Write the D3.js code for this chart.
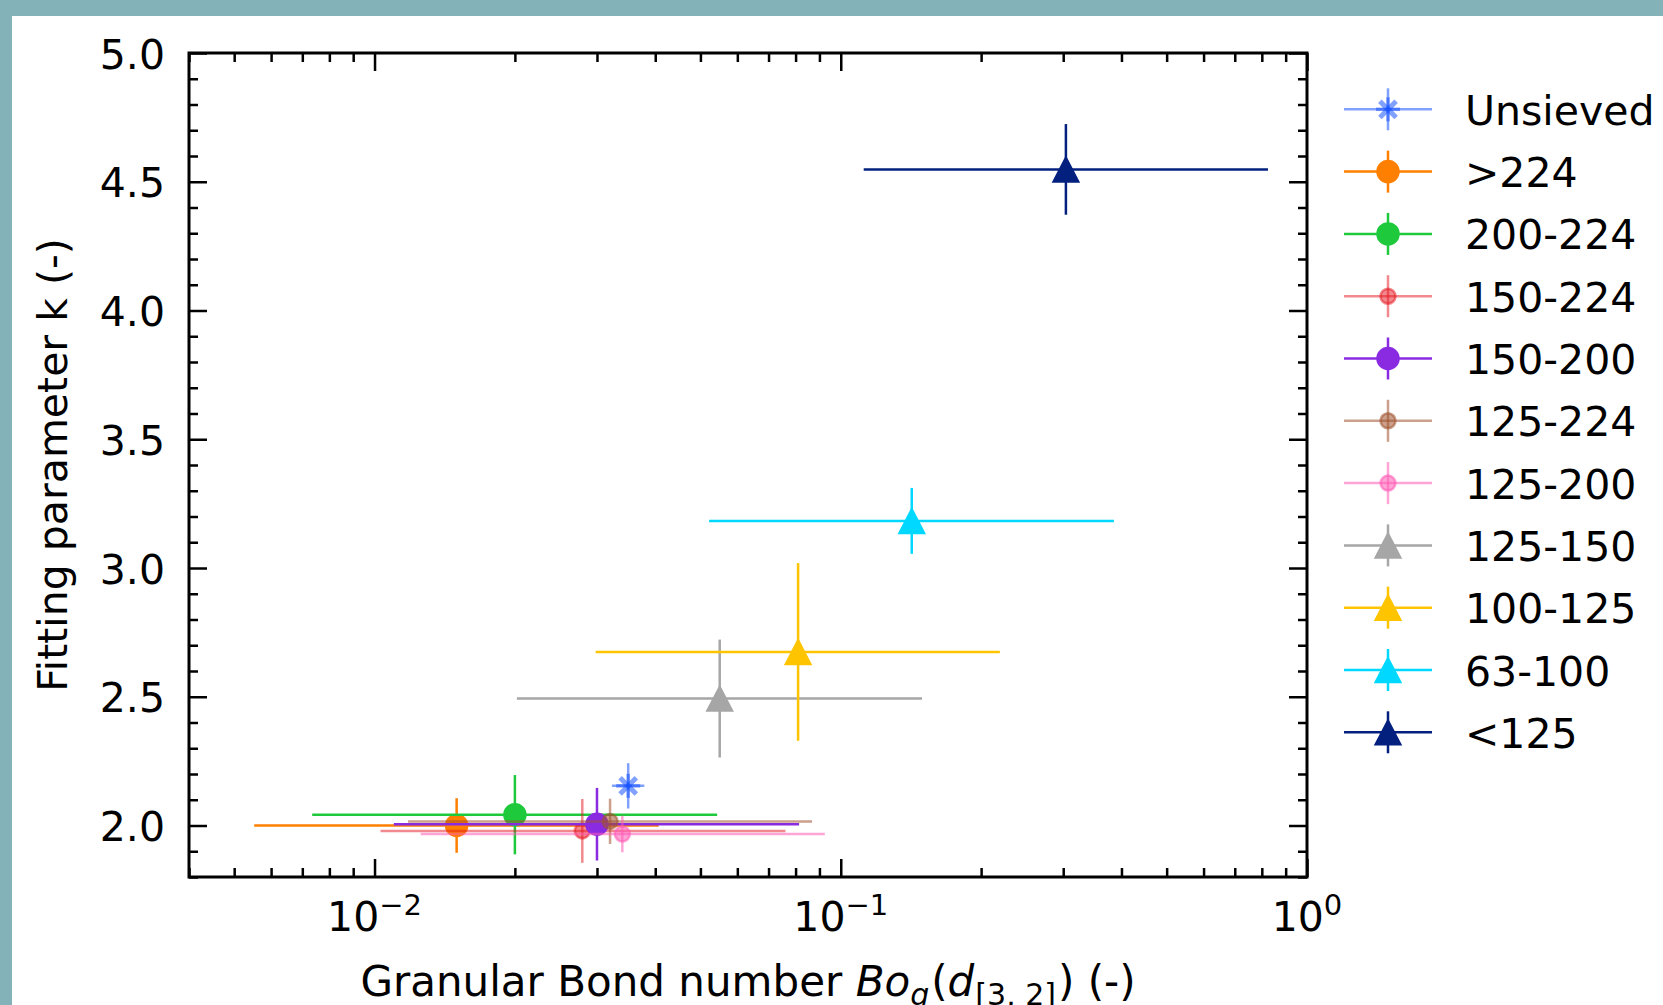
<!DOCTYPE html>
<html>
<head>
<meta charset="utf-8">
<script src="https://cdn.jsdelivr.net/npm/d3@7"></script>
<style>
html, body { margin: 0; padding: 0; background: #83b3b8; }
svg { display: block; font-family: "DejaVu Sans", sans-serif; }
</style>
</head>
<body>
<svg id="chart" width="1663" height="1005"></svg>
<script>
// data
var groups = ["Unsieved", ">224", "200-224", "150-224", "150-200", "125-224", "125-200", "125-150", "100-125", "63-100", "<125"];
var bond = [0.0350, 0.0150, 0.0200, 0.0279, 0.0300, 0.0320, 0.0340, 0.0550, 0.0810, 0.1420, 0.3040];
var bondLow = [0.0323, 0.00552, 0.00735, 0.0103, 0.0110, 0.0118, 0.01256, 0.0202, 0.0298, 0.0522, 0.1120];
var bondHigh = [0.0379, 0.0407, 0.0543, 0.0761, 0.0814, 0.0868, 0.0924, 0.1494, 0.2194, 0.3853, 0.8247];
var kVal = [2.154, 2.000, 2.042, 1.979, 2.005, 2.016, 1.967, 2.493, 2.674, 3.183, 4.548];
var kErr = [0.088, 0.106, 0.154, 0.124, 0.141, 0.088, 0.071, 0.229, 0.345, 0.128, 0.176];
var yTicks = [2.0, 2.5, 3.0, 3.5, 4.0, 4.5, 5.0];
var xTickLabels = ["\u22122", "\u22121", "0"];

// styles, one per group
var colors = ["#1a53ff", "#ff7f00", "#1fc93c", "#e6141e", "#8a2be2", "#a0522d", "#ff5ab4", "#a6a6a6", "#ffc400", "#00d8ff", "#03207f"];
var alphas = [0.55, 1, 1, 0.5, 1, 0.55, 0.55, 1, 1, 1, 1];
var shapes = ["star", "circle", "circle", "small", "circle", "small", "small", "tri", "tri", "tri", "tri"];

var svg = d3.select("#chart");
var box = {l: 189, r: 1307, t: 53, b: 877};

svg.append("rect")
	.attr("x", 12).attr("y", 16)
	.attr("width", 1663 - 12).attr("height", 1005 - 16)
	.attr("fill", "white");

var x = d3.scaleLog().domain([0.004, 1]).range([box.l, box.r]);
var y = d3.scaleLinear().domain([1.8, 5.0]).range([box.b, box.t]);

var isMajor = function(v) { return Math.abs(Math.log10(v) - Math.round(Math.log10(v))) < 1e-6; };
var xMajor = x.ticks().filter(isMajor);
var xMinor = x.ticks().filter(function(v) { return !isMajor(v); });
var yMinor = y.ticks(32).filter(function(v) { return yTicks.indexOf(Math.round(v * 10) / 10) < 0; });

// tick marks on all four sides, pointing inwards
function ticks(axis, pos, vals, len) {
	var g = svg.append("g").attr("transform", pos)
		.call(axis.tickValues(vals).tickSize(len).tickFormat(""));
	g.select(".domain").remove();
	g.selectAll("line").attr("stroke", "black").attr("stroke-width", 2.5);
}
ticks(d3.axisBottom(x), "translate(0," + box.b + ")", xMajor, -18);
ticks(d3.axisBottom(x), "translate(0," + box.b + ")", xMinor, -9);
ticks(d3.axisTop(x), "translate(0," + box.t + ")", xMajor, -18);
ticks(d3.axisTop(x), "translate(0," + box.t + ")", xMinor, -9);
ticks(d3.axisLeft(y), "translate(" + box.l + ",0)", yTicks, -18);
ticks(d3.axisLeft(y), "translate(" + box.l + ",0)", yMinor, -9);
ticks(d3.axisRight(y), "translate(" + box.r + ",0)", yTicks, -18);
ticks(d3.axisRight(y), "translate(" + box.r + ",0)", yMinor, -9);

// markers
function marker(g, shape, cx, cy, color, a) {
	if (shape == "circle" || shape == "small") {
		var r = shape == "circle" ? 10.5 : 7.5;
		g.append("circle").attr("cx", cx).attr("cy", cy).attr("r", r)
			.attr("fill", color).attr("fill-opacity", a)
			.attr("stroke", color).attr("stroke-opacity", a).attr("stroke-width", 2.5);
	} else if (shape == "tri") {
		g.append("path")
			.attr("d", "M" + cx + "," + (cy - 12.5) + "L" + (cx + 13) + "," + (cy + 12.5) + "L" + (cx - 13) + "," + (cy + 12.5) + "Z")
			.attr("fill", color).attr("stroke", color).attr("stroke-width", 1.5)
			.attr("stroke-linejoin", "miter");
	} else {
		[0, 45, 90, 135].forEach(function(ang) {
			var t = ang * Math.PI / 180, rr = ang % 90 == 0 ? 12 : 11.5;
			g.append("line")
				.attr("x1", cx - rr * Math.cos(t)).attr("y1", cy - rr * Math.sin(t))
				.attr("x2", cx + rr * Math.cos(t)).attr("y2", cy + rr * Math.sin(t))
				.attr("stroke", color).attr("stroke-opacity", a)
				.attr("stroke-width", ang % 90 == 0 ? 3.5 : 5);
		});
	}
}

function errLine(g, x1, y1, x2, y2, color, a) {
	g.append("line")
		.attr("x1", x1).attr("y1", y1).attr("x2", x2).attr("y2", y2)
		.attr("stroke", color).attr("stroke-opacity", a).attr("stroke-width", 2.5);
}

// points with error bars, drawn in legend order
var plot = svg.append("g");
groups.forEach(function(name, i) {
	var g = plot.append("g");
	var cx = x(bond[i]), cy = y(kVal[i]);
	errLine(g, x(bondLow[i]), cy, x(bondHigh[i]), cy, colors[i], alphas[i]);
	errLine(g, cx, y(kVal[i] - kErr[i]), cx, y(kVal[i] + kErr[i]), colors[i], alphas[i]);
	marker(g, shapes[i], cx, cy, colors[i], alphas[i]);
});

// frame
svg.append("rect")
	.attr("x", box.l).attr("y", box.t)
	.attr("width", box.r - box.l).attr("height", box.b - box.t)
	.attr("fill", "none").attr("stroke", "black").attr("stroke-width", 3);

// tick labels
var xl = svg.append("g").selectAll("text").data(xMajor).join("text")
	.attr("x", function(d) { return x(d); })
	.attr("y", 931)
	.attr("text-anchor", "middle")
	.attr("font-size", 41);
xl.append("tspan").text("10");
xl.append("tspan").attr("dy", -16).attr("font-size", 29)
	.text(function(d, i) { return xTickLabels[i]; });

svg.append("g").selectAll("text").data(yTicks).join("text")
	.attr("x", 165)
	.attr("y", function(d) { return y(d) + 15.5; })
	.attr("text-anchor", "end")
	.attr("font-size", 41)
	.text(function(d) { return d.toFixed(1); });

// axis titles
svg.append("text")
	.attr("transform", "translate(67," + ((box.t + box.b) / 2) + ") rotate(-90)")
	.attr("text-anchor", "middle")
	.attr("font-size", 41)
	.text("Fitting parameter k (-)");

var xt = svg.append("text")
	.attr("x", (box.l + box.r) / 2).attr("y", 996)
	.attr("text-anchor", "middle")
	.attr("font-size", 42);
xt.append("tspan").text("Granular Bond number ");
xt.append("tspan").attr("font-style", "italic").text("Bo");
xt.append("tspan").attr("font-style", "italic").attr("font-size", 30).attr("dy", 9).text("g");
xt.append("tspan").attr("dy", -9).attr("dx", 2).text("(");
xt.append("tspan").attr("font-style", "italic").text("d");
xt.append("tspan").attr("font-size", 30).attr("dy", 9).attr("dx", 1).text("[3, 2]");
xt.append("tspan").attr("dy", -9).attr("dx", 2).text(") (-)");

// legend
var leg = svg.append("g");
groups.forEach(function(name, i) {
	var ly = 109.3 + i * 62.3;
	var g = leg.append("g");
	errLine(g, 1344, ly, 1432, ly, colors[i], alphas[i]);
	errLine(g, 1388, ly - 21, 1388, ly + 21, colors[i], alphas[i]);
	marker(g, shapes[i], 1388, ly, colors[i], alphas[i]);
	g.append("text")
		.attr("x", 1465).attr("y", ly + 15.5)
		.attr("font-size", 41)
		.text(name);
});
</script>
</body>
</html>
